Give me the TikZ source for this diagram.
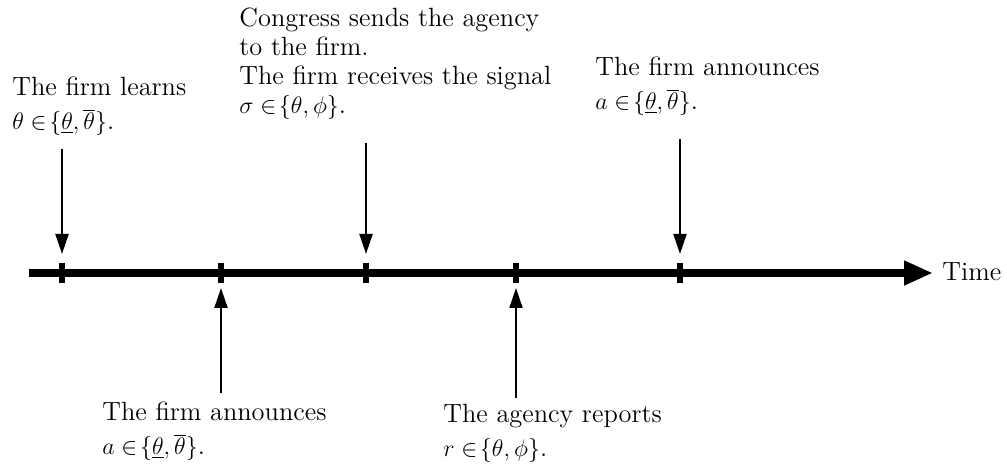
\documentclass[tikz,border=0pt]{standalone}
\usetikzlibrary{arrows.meta}
\newcommand{\tlow}{\underline{\theta}}
\newcommand{\thigh}{\overline{\theta}}
\begin{document}
\begin{tikzpicture}[x=0.5pt,y=-0.5pt,
  lbl/.style={anchor=north west,inner sep=0pt,align=left,font=\fontsize{13.2}{14.5}\selectfont},
  evarrow/.style={line width=1pt,-{Triangle[length=10pt,width=6.5pt]}},
  tick/.style={line width=3pt},
  axis/.style={line width=3.6pt,-{Triangle[length=14.5pt,width=11.5pt]}}]
\useasboundingbox (0,0) rectangle (1007,470);
% timeline
\coordinate (s) at (29,273);
\coordinate (e) at (933,273);
\draw[axis] (s) -- (e);
\node[lbl,anchor=base west] (time) at (942,281) {Time};
% ticks
\foreach \n/\x in {1/62,2/221,3/366,4/516,5/680}{
  \coordinate (tt\n) at (\x,263);
  \coordinate (tb\n) at (\x,283);
  \draw[tick] (tt\n) -- (tb\n);
}
% labels
\node[lbl] (l1) at (12,77) {The firm learns\\[2.5pt]$\theta\in\!\bigl\{\tlow,\thigh\bigr\}$.};
\node[lbl] (l3) at (239,8) {Congress sends the agency\\to the firm.\\The firm receives the signal\\$\sigma\in\!\bigl\{\theta,\phi\bigr\}$.};
\node[lbl] (l5) at (595,57) {The firm announces\\[2.5pt]$a\in\!\bigl\{\tlow,\thigh\bigr\}$.};
\node[lbl] (l2) at (102,402) {The firm announces\\[2.5pt]$a\in\!\bigl\{\tlow,\thigh\bigr\}$.};
\node[lbl] (l4) at (443,404) {The agency reports\\[2.5pt]$r\in\!\bigl\{\theta,\phi\bigr\}$.};
% arrows
\coordinate (a1) at (62,149);  \coordinate (b1) at (62,254);
\coordinate (a3) at (366,143); \coordinate (b3) at (366,254);
\coordinate (a5) at (680,139); \coordinate (b5) at (680,254);
\coordinate (a2) at (221,393); \coordinate (b2) at (221,288);
\coordinate (a4) at (516,398); \coordinate (b4) at (516,288);
\foreach \n in {1,2,3,4,5}{\draw[evarrow] (a\n) -- (b\n);}
\end{tikzpicture}
\end{document}
